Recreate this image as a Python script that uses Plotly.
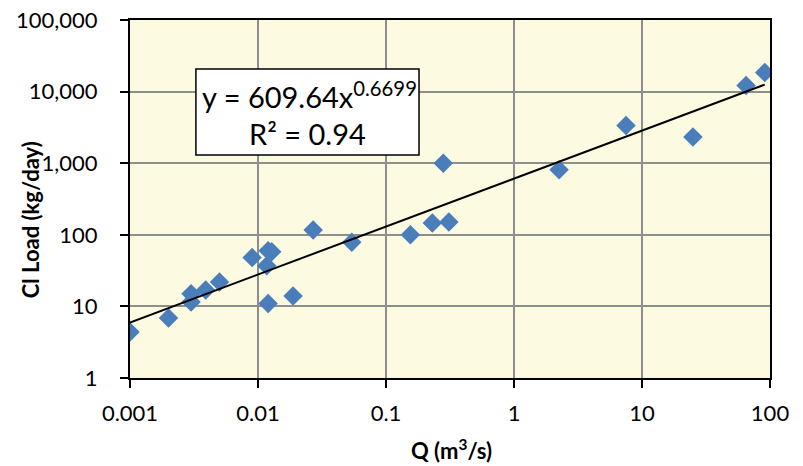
import numpy as np
import plotly.graph_objects as go

# Data
q_flow = [0.001, 0.002, 0.003, 0.003, 0.0039, 0.005, 0.009, 0.0117, 0.012, 0.0128,
          0.012, 0.0188, 0.027, 0.054, 0.155, 0.23, 0.31, 0.28, 2.25, 7.5,
          25, 65, 91]
cl_load = [4.4, 6.9, 15, 11.5, 17, 22, 48, 37, 60, 58,
           11, 14, 117, 79, 100, 146, 151, 1000, 810, 3350,
           2320, 12200, 18500]

# Power trendline coefficients (from the chart equation)
coef_a = 609.64
coef_b = 0.6699
r_squared = 0.94

x_ticks = [0.001, 0.01, 0.1, 1, 10, 100]
x_tick_labels = ["0.001", "0.01", "0.1", "1", "10", "100"]
y_ticks = [1, 10, 100, 1000, 10000, 100000]
y_tick_labels = ["1", "10", "100", "1,000", "10,000", "100,000"]

trend_x = np.logspace(np.log10(min(q_flow)), np.log10(max(q_flow)), 100)
trend_y = coef_a * trend_x ** coef_b

fig = go.Figure()
fig.add_trace(go.Scatter(
    x=q_flow, y=cl_load, mode="markers",
    marker=dict(symbol="diamond", size=15, color="#4A7EBB", line=dict(width=0)),
    showlegend=False, hoverinfo="x+y"))
fig.add_trace(go.Scatter(
    x=trend_x, y=trend_y, mode="lines",
    line=dict(color="black", width=2), showlegend=False, hoverinfo="skip"))

tick_font = dict(family="Lato, 'Open Sans', sans-serif", size=22, color="black")
title_font = dict(family="Lato, 'Open Sans', sans-serif", size=22, color="black")
eq_font = dict(family="Lato, 'Open Sans', sans-serif", size=29, color="black")

fig.update_layout(
    width=803, height=466,
    margin=dict(l=130, r=33, t=20, b=88, autoexpand=False),
    paper_bgcolor="white",
    plot_bgcolor="#FDFAE2",
    font=tick_font,
    xaxis=dict(
        type="log", range=[-3, 2], automargin=False,
        tickvals=x_ticks, ticktext=x_tick_labels,
        showgrid=True, gridcolor="#8E8E8E", gridwidth=1.5,
        showline=True, linecolor="black", linewidth=2, mirror=True,
        ticks="outside", ticklen=8, tickwidth=2, tickcolor="black",
        ticklabelstandoff=7, ticklabeloverflow="allow",
        zeroline=False, tickfont=tick_font),
    yaxis=dict(
        type="log", range=[0, 5], automargin=False,
        tickvals=y_ticks, ticktext=y_tick_labels,
        showgrid=True, gridcolor="#8E8E8E", gridwidth=1.5,
        showline=True, linecolor="black", linewidth=2, mirror=True,
        ticks="outside", ticklen=8, tickwidth=2, tickcolor="black",
        ticklabelstandoff=18, ticklabeloverflow="allow",
        zeroline=False, tickfont=tick_font),
    shapes=[dict(type="rect", xref="paper", yref="paper",
                 x0=0.103, x1=0.4516, y0=0.623, y1=0.863,
                 line=dict(color="black", width=1.5), fillcolor="white", layer="above")],
    annotations=[
        dict(text=f"y = {coef_a}x<sup>{coef_b}</sup>", xref="paper", yref="paper",
             x=0.28, y=0.79, showarrow=False, xanchor="center", yanchor="middle",
             font=eq_font),
        dict(text=f"R² = {r_squared}", xref="paper", yref="paper",
             x=0.277, y=0.684, showarrow=False, xanchor="center", yanchor="middle",
             font=eq_font),
        dict(text="<b>Cl Load (kg/day)</b>", xref="paper", yref="paper",
             x=-0.156, y=0.441, textangle=-90, showarrow=False,
             xanchor="center", yanchor="middle", font=title_font),
        dict(text="<b>Q (m<sup>3</sup>/s)</b>", xref="paper", yref="paper",
             x=0.502, y=-0.2, showarrow=False,
             xanchor="center", yanchor="middle", font=title_font),
    ],
)

fig.write_html("out.html", config={"displayModeBar": False},
               post_script="document.body.style.margin='0';")
